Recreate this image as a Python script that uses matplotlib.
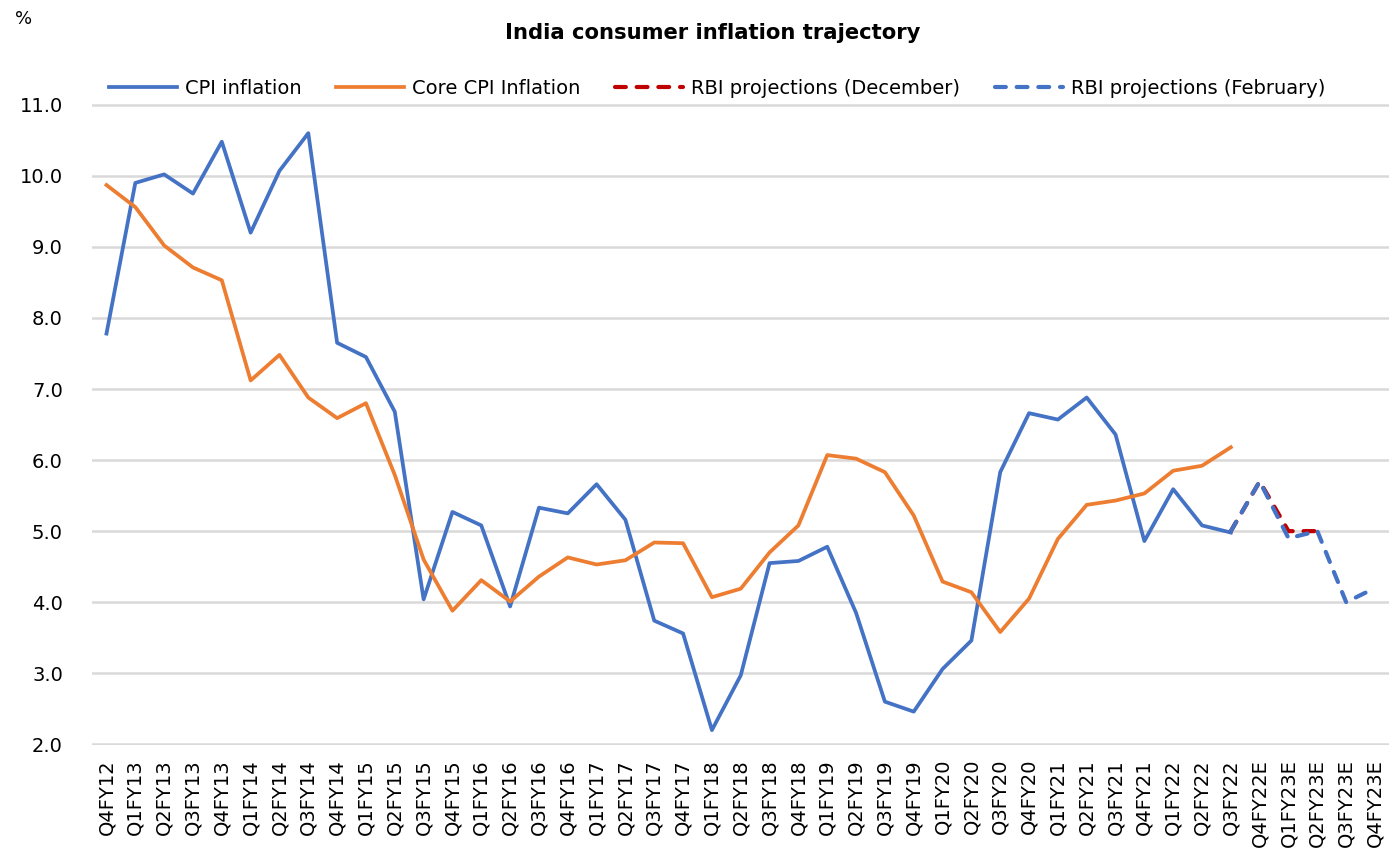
import matplotlib
matplotlib.use("Agg")
import matplotlib.pyplot as plt
import numpy as np

# DATA
quarters = ["Q4FY12",
            "Q1FY13", "Q2FY13", "Q3FY13", "Q4FY13",
            "Q1FY14", "Q2FY14", "Q3FY14", "Q4FY14",
            "Q1FY15", "Q2FY15", "Q3FY15", "Q4FY15",
            "Q1FY16", "Q2FY16", "Q3FY16", "Q4FY16",
            "Q1FY17", "Q2FY17", "Q3FY17", "Q4FY17",
            "Q1FY18", "Q2FY18", "Q3FY18", "Q4FY18",
            "Q1FY19", "Q2FY19", "Q3FY19", "Q4FY19",
            "Q1FY20", "Q2FY20", "Q3FY20", "Q4FY20",
            "Q1FY21", "Q2FY21", "Q3FY21", "Q4FY21",
            "Q1FY22", "Q2FY22", "Q3FY22",
            "Q4FY22E", "Q1FY23E", "Q2FY23E", "Q3FY23E", "Q4FY23E"]

cpi = [7.78, 9.90, 10.02, 9.75, 10.48, 9.20, 10.07, 10.60, 7.65, 7.45,
       6.68, 4.04, 5.27, 5.08, 3.94, 5.33, 5.25, 5.66, 5.16, 3.74,
       3.56, 2.20, 2.97, 4.55, 4.58, 4.78, 3.85, 2.60, 2.46, 3.06,
       3.46, 5.83, 6.66, 6.57, 6.88, 6.36, 4.86, 5.59, 5.08, 4.98]

core_cpi = [9.87, 9.56, 9.02, 8.71, 8.53, 7.12, 7.48, 6.88, 6.59, 6.80,
            5.79, 4.60, 3.88, 4.31, 4.01, 4.36, 4.63, 4.53, 4.59, 4.84,
            4.83, 4.07, 4.19, 4.70, 5.08, 6.07, 6.02, 5.83, 5.22, 4.29,
            4.14, 3.58, 4.05, 4.89, 5.37, 5.43, 5.53, 5.85, 5.92, 6.18]

# projections start from the last actual quarter (Q3FY22)
dec_quarters = ["Q3FY22", "Q4FY22E", "Q1FY23E", "Q2FY23E"]
dec_proj = [5.0, 5.7, 5.0, 5.0]

feb_quarters = ["Q3FY22", "Q4FY22E", "Q1FY23E", "Q2FY23E", "Q3FY23E", "Q4FY23E"]
feb_proj = [5.0, 5.7, 4.9, 5.0, 4.0, 4.2]

BLUE = "#4472C4"
ORANGE = "#ED7D31"
RED = "#C00000"
GRID = "#D9D9D9"

plt.rcParams["font.family"] = ["DejaVu Sans"]

fig = plt.figure(figsize=(13.95, 8.5), dpi=100)
ax = fig.add_axes([0.066, 0.1235, 0.930, 0.7541])

pos = {q: i for i, q in enumerate(quarters)}
x_all = np.arange(len(quarters))

ax.plot(x_all[:len(cpi)], cpi, color=BLUE, lw=2.7, label="CPI inflation", zorder=3)
ax.plot(x_all[:len(core_cpi)], core_cpi, color=ORANGE, lw=2.7, label="Core CPI Inflation", zorder=3)
ax.plot([pos[q] for q in dec_quarters], dec_proj, color=RED, lw=3.0,
        ls=(0, (2.6, 2.6)), dash_capstyle="round", label="RBI projections (December)", zorder=4)
ax.plot([pos[q] for q in feb_quarters], feb_proj, color=BLUE, lw=3.0,
        ls=(0, (2.6, 2.6)), dash_capstyle="round", label="RBI projections (February)", zorder=5)

# axes (tiny margin so the 2.0 / 11.0 gridlines are not half clipped)
ax.set_ylim(1.99, 11.01)
ax.set_yticks(np.arange(2.0, 11.01, 1.0))
ax.set_yticklabels([f"{v:.1f}" for v in np.arange(2.0, 11.01, 1.0)])
ax.set_xlim(-0.5, len(quarters) - 0.5)
ax.set_xticks(x_all)
ax.set_xticklabels(quarters, rotation=90)

ax.tick_params(axis="y", length=0, pad=21, labelsize=14)
ax.tick_params(axis="x", length=0, pad=10, labelsize=14)
for s in ax.spines.values():
    s.set_visible(False)
ax.grid(axis="y", color=GRID, lw=1.8, zorder=0)
ax.set_axisbelow(True)

# title, unit label, legend
fig.text(0.511, 0.961, "India consumer inflation trajectory", ha="center", va="center",
         fontsize=15.2, fontweight="bold")
fig.text(0.011, 0.978, "%", ha="left", va="center", fontsize=13)

fig.legend(loc="center", bbox_to_anchor=(0.514, 0.896), ncol=4, frameon=False,
           fontsize=14, handlelength=3.5, handletextpad=0.4, columnspacing=1.8)

plt.savefig("out.png", dpi=100)
plt.close()
